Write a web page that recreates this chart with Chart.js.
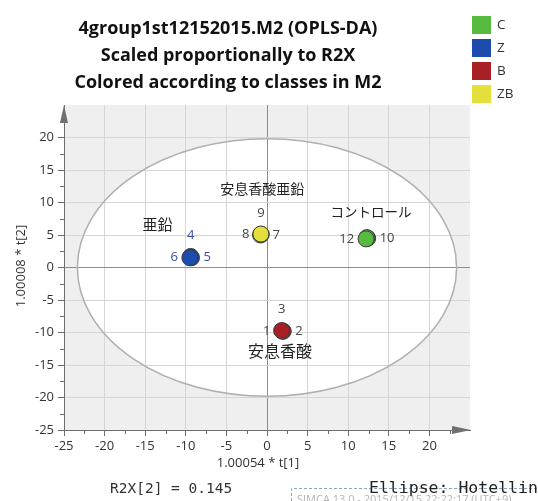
<!DOCTYPE html>
<html>
<head>
<meta charset="utf-8">
<script src="https://cdn.jsdelivr.net/npm/chart.js@4.4.1/dist/chart.umd.min.js"></script>
<style>
    html, body { margin: 0; padding: 0; background: #ffffff; }
    canvas { display: block; }
</style>
</head>
<body>
<canvas id="scores" width="538" height="501"></canvas>
<script>
// ---- data ----
const groupNames = ["C", "Z", "B", "ZB"];

const cScoreX = [12.4, 12.3, 12.2];
const cScoreY = [4.5, 4.6, 4.4];
const cLabels = ["10", "11", "12"];

const zScoreX = [-9.4, -9.3, -9.5];
const zScoreY = [1.7, 1.5, 1.5];
const zLabels = ["4", "5", "6"];

const bScoreX = [1.9, 2.0, 1.8];
const bScoreY = [-9.8, -9.8, -9.7];
const bLabels = ["1", "2", "3"];

const zbScoreX = [-0.8, -0.7, -0.75];
const zbScoreY = [5.0, 5.1, 5.15];
const zbLabels = ["7", "8", "9"];

const axisTicks = [-25, -20, -15, -10, -5, 0, 5, 10, 15, 20];

// Hotelling T2 (95%) ellipse half axes, in score units
const ellipseT1 = 23.35;
const ellipseT2 = 19.8;

const titleLines = [
    "4group1st12152015.M2 (OPLS-DA)",
    "Scaled proportionally to R2X",
    "Colored according to classes in M2"
];

// group names written onto the plot, anchored in score units
const noteTexts = ["安息香酸亜鉛", "亜鉛", "コントロール", "安息香酸"];
const noteT1 = [-0.6, -13.5, 12.8, 1.6];
const noteT2 = [12.2, 6.6, 8.5, -12.8];

// ---- styles ----
const groupColors = ["#57bb3f", "#1d4cae", "#a91f26", "#e4df3a"];
const labelColors = ["#444444", "#3b4ea6", "#444444", "#444444"];
// where each number sits next to its point (in data order)
const labelSides = [
    ["right", "none", "left"],
    ["top", "right", "left"],
    ["left", "right", "top"],
    ["right", "left", "top"]
];
const noteSizes = [14, 15, 13.5, 16];

function toPoints(xs, ys) {
    return xs.map(function (x, i) { return { x: x, y: ys[i] }; });
}

const groupPoints = [
    toPoints(cScoreX, cScoreY),
    toPoints(zScoreX, zScoreY),
    toPoints(bScoreX, bScoreY),
    toPoints(zbScoreX, zbScoreY)
];
const groupLabels = [cLabels, zLabels, bLabels, zbLabels];

const uiFont = '"Open Sans", "Noto Sans", sans-serif';
const cjkFont = '"Noto Sans CJK JP", sans-serif';
const monoFont = '"DejaVu Sans Mono", monospace';

function gridColor(ctx) {
    if (!ctx.tick) return "#d6d6d6";
    if (ctx.tick.value === 0) return "#8c8c8c";
    if (ctx.tick.value === 25) return "rgba(0,0,0,0)";
    return "#d6d6d6";
}

function tickColor(ctx) {
    if (ctx.tick && ctx.tick.value === 25) return "rgba(0,0,0,0)";
    return "#6e6e6e";
}

function tickText(value) {
    return axisTicks.indexOf(value) >= 0 ? String(value) : "";
}

const plotBackground = {
    id: "plotBackground",
    beforeDraw: function (chart) {
        const c = chart.ctx;
        const area = chart.chartArea;
        const sx = chart.scales.x;
        const sy = chart.scales.y;

        c.save();
        c.fillStyle = "#efefef";
        c.fillRect(area.left, area.top, area.right - area.left, area.bottom - area.top);

        const cx = sx.getPixelForValue(0);
        const cy = sy.getPixelForValue(0);
        c.beginPath();
        c.ellipse(cx, cy, sx.getPixelForValue(ellipseT1) - cx, cy - sy.getPixelForValue(ellipseT2), 0, 0, Math.PI * 2);
        c.fillStyle = "#ffffff";
        c.fill();
        c.restore();
    }
};

const plotOverlay = {
    id: "plotOverlay",
    beforeDatasetsDraw: function (chart) {
        const c = chart.ctx;
        const area = chart.chartArea;
        const sx = chart.scales.x;
        const sy = chart.scales.y;

        c.save();
        // ellipse outline
        const cx = sx.getPixelForValue(0);
        const cy = sy.getPixelForValue(0);
        c.beginPath();
        c.ellipse(cx, cy, sx.getPixelForValue(ellipseT1) - cx, cy - sy.getPixelForValue(ellipseT2), 0, 0, Math.PI * 2);
        c.strokeStyle = "#afafaf";
        c.lineWidth = 1.5;
        c.stroke();

        // minor ticks between the labelled ones
        c.strokeStyle = "#6e6e6e";
        c.lineWidth = 1;
        c.beginPath();
        for (let v = -22.5; v < 25; v += 5) {
            const px = Math.round(sx.getPixelForValue(v)) + 0.5;
            c.moveTo(px, area.bottom);
            c.lineTo(px, area.bottom + 4);
            const py = Math.round(sy.getPixelForValue(v)) + 0.5;
            c.moveTo(area.left, py);
            c.lineTo(area.left - 4, py);
        }
        c.stroke();

        // arrow heads on both axes
        c.fillStyle = "#707070";
        c.beginPath();
        c.moveTo(area.right + 1, area.bottom);
        c.lineTo(area.right - 18, area.bottom - 4);
        c.lineTo(area.right - 18, area.bottom + 4);
        c.closePath();
        c.fill();
        c.beginPath();
        c.moveTo(area.left, area.top);
        c.lineTo(area.left - 4, area.top + 18);
        c.lineTo(area.left + 4, area.top + 18);
        c.closePath();
        c.fill();
        c.restore();
    },

    afterDatasetsDraw: function (chart) {
        const c = chart.ctx;
        const sx = chart.scales.x;
        const sy = chart.scales.y;

        c.save();
        c.font = "13px " + uiFont;
        c.textBaseline = "middle";
        chart.data.datasets.forEach(function (dataset, g) {
            const meta = chart.getDatasetMeta(g);
            c.fillStyle = labelColors[g];
            meta.data.forEach(function (el, i) {
                const side = labelSides[g][i];
                const text = groupLabels[g][i];
                if (side === "top") {
                    c.textAlign = "center";
                    c.fillText(text, el.x, el.y - 21);
                } else if (side === "left") {
                    c.textAlign = "right";
                    c.fillText(text, el.x - 12, el.y);
                } else if (side === "right") {
                    c.textAlign = "left";
                    c.fillText(text, el.x + 12, el.y);
                }
            });
        });

        c.fillStyle = "#222222";
        c.textAlign = "center";
        noteTexts.forEach(function (text, i) {
            c.font = noteSizes[i] + "px " + cjkFont;
            c.fillText(text, sx.getPixelForValue(noteT1[i]), sy.getPixelForValue(noteT2[i]));
        });
        c.restore();
    },

    afterDraw: function (chart) {
        const c = chart.ctx;
        c.save();

        // three line title
        c.fillStyle = "#111111";
        c.textAlign = "center";
        c.textBaseline = "middle";
        c.font = "bold 18px " + uiFont;
        titleLines.forEach(function (line, i) {
            c.fillText(line, 228, 29 + i * 27);
        });

        // class legend
        c.font = "13.5px " + uiFont;
        c.textAlign = "left";
        groupNames.forEach(function (name, i) {
            c.fillStyle = groupColors[i];
            c.fillRect(472, 16 + i * 23, 19, 18);
            c.fillStyle = "#333333";
            c.fillText(name, 497, 25 + i * 23);
        });

        // axis titles
        c.font = "13px " + uiFont;
        c.fillStyle = "#333333";
        c.textAlign = "center";
        c.fillText("1.00054 * t[1]", 258, 463);
        c.save();
        c.translate(21, 266);
        c.rotate(-Math.PI / 2);
        c.fillText("1.00008 * t[2]", 0, 0);
        c.restore();

        // footer
        c.font = "14.5px " + monoFont;
        c.textAlign = "left";
        c.fillText("R2X[2] = 0.145", 110, 489);

        c.strokeStyle = "#8fa5bf";
        c.lineWidth = 1;
        c.setLineDash([3, 2]);
        c.beginPath();
        c.moveTo(291.5, 501);
        c.lineTo(291.5, 488.5);
        c.lineTo(538, 488.5);
        c.stroke();
        c.setLineDash([]);

        c.fillStyle = "#b4b4b4";
        c.font = "11px " + uiFont;
        c.textBaseline = "top";
        c.fillText("SIMCA 13.0 - 2015/12/15 22:22:17 (UTC+9)", 297, 494);

        c.fillStyle = "#222222";
        c.font = "16.5px " + monoFont;
        c.textBaseline = "middle";
        c.fillText("Ellipse: Hotelling T2 (95%)", 369, 489);

        c.restore();
    }
};

window.scorePlot = {
    render: function (canvasId) {
        const element = document.getElementById(canvasId);

        const datasets = groupNames.map(function (name, g) {
            return {
                label: name,
                data: groupPoints[g],
                pointRadius: 8,
                pointHoverRadius: 8,
                backgroundColor: groupColors[g],
                borderColor: "#3c3c3c",
                borderWidth: 1
            };
        });

        const tickFont = { family: uiFont, size: 13 };

        return new Chart(element, {
            type: "scatter",
            data: { datasets: datasets },
            options: {
                responsive: false,
                animation: false,
                devicePixelRatio: 1,
                layout: { padding: { top: 105, right: 68, bottom: 0, left: 0 } },
                plugins: {
                    legend: { display: false },
                    title: { display: false },
                    tooltip: { enabled: false }
                },
                scales: {
                    x: {
                        type: "linear",
                        min: -25,
                        max: 25,
                        afterFit: function (scale) { scale.height = 71; },
                        ticks: {
                            stepSize: 5,
                            padding: 2,
                            maxRotation: 0,
                            autoSkip: false,
                            color: "#333333",
                            font: tickFont,
                            callback: tickText
                        },
                        grid: { color: gridColor, tickColor: tickColor, tickLength: 6 },
                        border: { color: "#6e6e6e", width: 1 }
                    },
                    y: {
                        type: "linear",
                        min: -25,
                        max: 25,
                        afterFit: function (scale) { scale.width = 64; },
                        ticks: {
                            stepSize: 5,
                            padding: 4,
                            autoSkip: false,
                            color: "#333333",
                            font: tickFont,
                            callback: tickText
                        },
                        grid: { color: gridColor, tickColor: tickColor, tickLength: 6 },
                        border: { color: "#6e6e6e", width: 1 }
                    }
                }
            },
            plugins: [plotBackground, plotOverlay]
        });
    }
};

window.scorePlot.render("scores");
</script>
</body>
</html>
